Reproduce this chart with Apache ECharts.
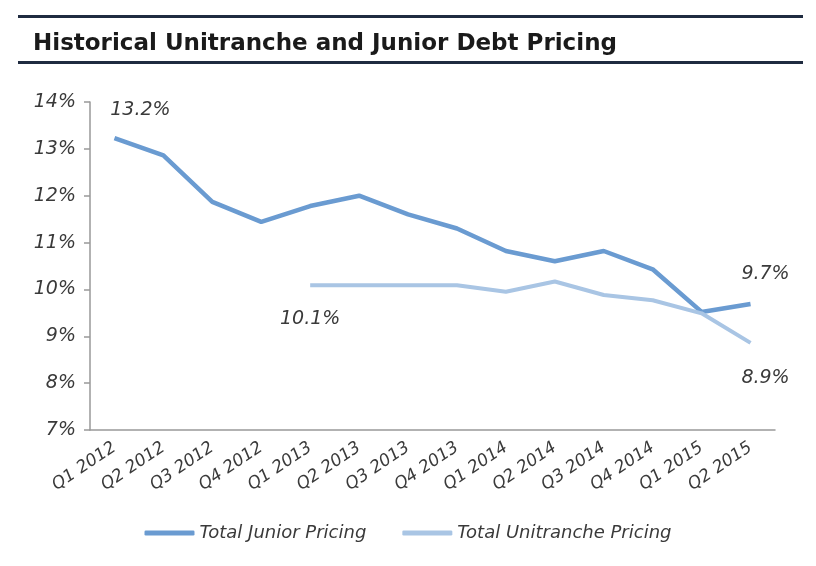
<!DOCTYPE html>
<html>
<head>
<meta charset="utf-8">
<style>
  html, body { margin: 0; padding: 0; background: #fff; }
  #main { width: 816px; height: 566px; }
</style>
<script src="https://cdn.jsdelivr.net/npm/echarts@6/dist/echarts.min.js"></script>
</head>
<body>
<div id="main"></div>
<script>
var quarters = ['Q1 2012', 'Q2 2012', 'Q3 2012', 'Q4 2012', 'Q1 2013', 'Q2 2013', 'Q3 2013',
    'Q4 2013', 'Q1 2014', 'Q2 2014', 'Q3 2014', 'Q4 2014', 'Q1 2015', 'Q2 2015'];
var juniorPricing = [13.23, 12.86, 11.87, 11.44, 11.78, 12.0, 11.6, 11.3, 10.82, 10.6, 10.82, 10.43, 9.52, 9.69];
var unitranchePricing = ['-', '-', '-', '-', 10.09, 10.09, 10.09, 10.09, 9.95, 10.17, 9.88, 9.77, 9.49, 8.86];
var yTicks = [7, 8, 9, 10, 11, 12, 13, 14];

var textColor = '#3a3a3a';
var font = 'DejaVu Sans';

function labelled(values, marks) {
    // marks: index -> label settings, other points stay plain
    return values.map(function (v, i) {
        if (marks[i]) {
            return { value: v, label: Object.assign({ show: true }, marks[i]) };
        }
        return v;
    });
}

var labelStyle = {
    formatter: function (p) { return p.value.toFixed(1) + '%'; },
    fontFamily: font,
    fontSize: 19,
    fontStyle: 'italic',
    color: textColor
};

var myChart = echarts.init(document.getElementById('main'));
var option = {
    animation: false,
    title: {
        text: 'Historical Unitranche and Junior Debt Pricing',
        left: 28,
        top: 28,
        textStyle: {
            fontFamily: font,
            fontSize: 23,
            fontWeight: 'bold',
            color: '#1a1a1a'
        }
    },
    graphic: [
        { type: 'rect', shape: { x: 18, y: 15, width: 785, height: 3 }, style: { fill: '#1f2b40' } },
        { type: 'rect', shape: { x: 18, y: 61, width: 785, height: 3 }, style: { fill: '#1f2b40' } }
    ],
    grid: { left: 90, right: 41, top: 102, bottom: 136 },
    legend: {
        bottom: 19,
        left: 'center',
        icon: 'roundRect',
        itemWidth: 50,
        itemHeight: 5,
        itemGap: 36,
        textStyle: { fontFamily: font, fontSize: 18, fontStyle: 'italic', color: textColor },
        data: ['Total Junior Pricing', 'Total Unitranche Pricing']
    },
    xAxis: {
        type: 'category',
        data: quarters,
        boundaryGap: true,
        axisLine: { lineStyle: { color: '#999', width: 1.5 } },
        axisTick: { length: 6, lineStyle: { color: '#999', width: 1.5 } },
        axisLabel: {
            interval: 0,
            rotate: 34,
            margin: 16,
            fontFamily: font,
            fontSize: 17,
            fontStyle: 'italic',
            color: textColor
        },
        splitLine: { show: false }
    },
    yAxis: {
        type: 'value',
        min: yTicks[0],
        max: yTicks[yTicks.length - 1],
        interval: 1,
        axisLine: { show: true, lineStyle: { color: '#999', width: 1.5 } },
        axisTick: { show: true, length: 6, lineStyle: { color: '#999', width: 1.5 } },
        axisLabel: {
            formatter: '{value}%',
            margin: 14,
            fontFamily: font,
            fontSize: 19,
            fontStyle: 'italic',
            color: textColor
        },
        splitLine: { show: false }
    },
    series: [
        {
            name: 'Total Junior Pricing',
            type: 'line',
            symbol: 'circle',
            symbolSize: 0,
            lineStyle: { color: '#6a9bd1', width: 4.5 },
            itemStyle: { color: '#6a9bd1' },
            label: labelStyle,
            data: labelled(juniorPricing, {
                0: { position: 'top', offset: [26, -14] },
                13: { position: 'top', offset: [15, -15] }
            })
        },
        {
            name: 'Total Unitranche Pricing',
            type: 'line',
            symbol: 'circle',
            symbolSize: 0,
            lineStyle: { color: '#a9c5e4', width: 4 },
            itemStyle: { color: '#a9c5e4' },
            label: labelStyle,
            data: labelled(unitranchePricing, {
                4: { position: 'bottom', offset: [0, 19] },
                13: { position: 'bottom', offset: [15, 21] }
            })
        }
    ]
};
myChart.setOption(option);
</script>
</body>
</html>
